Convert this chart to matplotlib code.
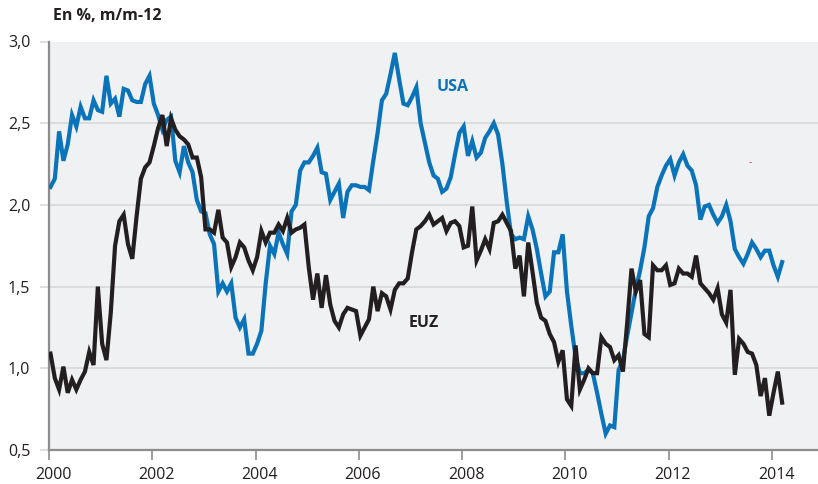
import numpy as np
import matplotlib
matplotlib.use("Agg")
import matplotlib.pyplot as plt
from matplotlib.transforms import ScaledTranslation

# ---- data (monthly, Jan 2000 .. Mar 2014), % y/y ----
start_year = 2000
usa = [2.11, 2.16, 2.45, 2.27, 2.37, 2.55, 2.48, 2.60, 2.53, 2.53, 2.64, 2.58,
       2.57, 2.79, 2.62, 2.65, 2.54, 2.71, 2.70, 2.64, 2.63, 2.63, 2.74, 2.79,
       2.62, 2.55, 2.46, 2.52, 2.54, 2.27, 2.20, 2.36, 2.26, 2.20, 2.03, 1.96,
       1.95, 1.82, 1.76, 1.47, 1.52, 1.47, 1.52, 1.31, 1.25, 1.30, 1.09, 1.09,
       1.15, 1.23, 1.52, 1.75, 1.70, 1.83, 1.76, 1.70, 1.96, 2.00, 2.21, 2.26,
       2.26, 2.30, 2.35, 2.20, 2.19, 2.03, 2.08, 2.13, 1.92, 2.08, 2.12, 2.12,
       2.11, 2.11, 2.09, 2.27, 2.44, 2.64, 2.68, 2.80, 2.93, 2.77, 2.62, 2.61,
       2.66, 2.72, 2.50, 2.38, 2.26, 2.18, 2.16, 2.08, 2.10, 2.17, 2.31, 2.44,
       2.48, 2.30, 2.39, 2.29, 2.32, 2.41, 2.45, 2.50, 2.43, 2.25, 2.02, 1.82,
       1.79, 1.80, 1.79, 1.93, 1.85, 1.73, 1.58, 1.44, 1.47, 1.71, 1.71, 1.82,
       1.47, 1.26, 1.07, 0.97, 0.97, 0.99, 0.97, 0.85, 0.72, 0.60, 0.65, 0.64,
       0.99, 1.05, 1.20, 1.34, 1.48, 1.60, 1.74, 1.93, 1.98, 2.11, 2.18, 2.24,
       2.28, 2.18, 2.26, 2.31, 2.24, 2.21, 2.12, 1.91, 1.99, 2.00, 1.94, 1.89,
       1.93, 2.00, 1.90, 1.73, 1.68, 1.64, 1.70, 1.77, 1.73, 1.68, 1.72, 1.72,
       1.63, 1.56, 1.65]
euz = [1.09, 0.94, 0.87, 1.01, 0.85, 0.93, 0.87, 0.93, 0.98, 1.10, 1.02, 1.50,
       1.15, 1.05, 1.34, 1.75, 1.90, 1.94, 1.76, 1.67, 1.93, 2.16, 2.23, 2.26,
       2.36, 2.47, 2.55, 2.36, 2.53, 2.46, 2.42, 2.40, 2.37, 2.29, 2.29, 2.17,
       1.85, 1.85, 1.83, 1.97, 1.80, 1.77, 1.62, 1.68, 1.77, 1.74, 1.66, 1.60,
       1.68, 1.84, 1.77, 1.83, 1.83, 1.88, 1.84, 1.92, 1.83, 1.85, 1.86, 1.88,
       1.62, 1.42, 1.58, 1.37, 1.57, 1.39, 1.29, 1.25, 1.33, 1.37, 1.36, 1.35,
       1.20, 1.25, 1.30, 1.50, 1.35, 1.46, 1.44, 1.36, 1.48, 1.52, 1.52, 1.55,
       1.71, 1.85, 1.87, 1.90, 1.94, 1.88, 1.90, 1.92, 1.84, 1.89, 1.90, 1.87,
       1.74, 1.75, 1.99, 1.66, 1.72, 1.79, 1.73, 1.89, 1.90, 1.94, 1.89, 1.84,
       1.61, 1.69, 1.44, 1.77, 1.59, 1.40, 1.31, 1.29, 1.21, 1.16, 1.04, 1.11,
       0.81, 0.77, 1.14, 0.87, 0.93, 1.00, 0.97, 0.97, 1.19, 1.15, 1.13, 1.05,
       1.08, 0.98, 1.28, 1.61, 1.47, 1.54, 1.21, 1.19, 1.63, 1.60, 1.60, 1.63,
       1.51, 1.52, 1.61, 1.58, 1.58, 1.56, 1.69, 1.52, 1.49, 1.46, 1.42, 1.49,
       1.33, 1.28, 1.48, 0.96, 1.18, 1.15, 1.10, 1.09, 1.02, 0.83, 0.94, 0.71,
       0.85, 0.98, 0.79]

x_ticks = [2000, 2002, 2004, 2006, 2008, 2010, 2012, 2014]
y_ticks = [0.5, 1.0, 1.5, 2.0, 2.5, 3.0]
y_labels = ["0,5", "1,0", "1,5", "2,0", "2,5", "3,0"]
grid_levels = [1.0, 1.5, 2.0, 2.5]
unit_label = "En %, m/m-12"
series_names = ["USA", "EUZ"]

# ---- style ----
BLUE = "#0a73b9"
DARK = "#231f20"
BG = "#f0f1f3"
GRID = "#d9dadc"
SPINE = "#8c8c8c"
FONT = "Open Sans"

plt.rcParams["font.family"] = [FONT, "DejaVu Sans"]

fig = plt.figure(figsize=(8.18, 4.84), dpi=100)
W, H = 818, 484
ax = fig.add_axes([49 / W, (H - 450) / H, 769 / W, 408.5 / H])
ax.set_facecolor(BG)

months = np.arange(len(usa))
xs = start_year + (months + 0.35) / 12.0

for lv in grid_levels:
    ax.axhline(lv, color=GRID, lw=1.3, zorder=1)

ax.plot(xs, usa, color=BLUE, lw=3.0, solid_joinstyle="miter", zorder=3)
ax.plot(xs, euz, color=DARK, lw=3.0, solid_joinstyle="miter", zorder=4)

ax.set_xlim(2000, 2014.89)
ax.set_ylim(0.5, 3.0)

ax.set_yticks(y_ticks)
ax.set_yticklabels(y_labels)
ax.set_xticks(x_ticks)
ax.set_xticklabels([str(t) for t in x_ticks])

ax.tick_params(axis="y", length=6.5, width=1.2, color=GRID, pad=7,
               labelsize=11.5, labelcolor=DARK)
ax.tick_params(axis="x", length=7, width=1.2, color=SPINE, pad=5,
               labelsize=11.5, labelcolor=DARK)
off = ScaledTranslation(4 / 100, 0, fig.dpi_scale_trans)
for lab in ax.get_xticklabels():
    lab.set_transform(lab.get_transform() + off)

for s in ["top", "right"]:
    ax.spines[s].set_visible(False)
for s in ["left", "bottom"]:
    ax.spines[s].set_color(SPINE)
    ax.spines[s].set_linewidth(1.6)

ax.text(2007.82, 2.72, series_names[0], color=BLUE, fontsize=11.5,
        fontweight="bold", ha="center", va="center", zorder=5)
ax.text(2007.26, 1.28, series_names[1], color=DARK, fontsize=11.5,
        fontweight="bold", ha="center", va="center", zorder=5)
ax.text(2013.57, 2.26, "-", color="#b04040", fontsize=7, ha="center",
        va="center", zorder=5)

fig.text(53 / W, 1 - 16.5 / H, unit_label, color=DARK, fontsize=11.5,
         fontweight="bold", ha="left", va="center")

fig.savefig("out.png", dpi=100, facecolor="white")
